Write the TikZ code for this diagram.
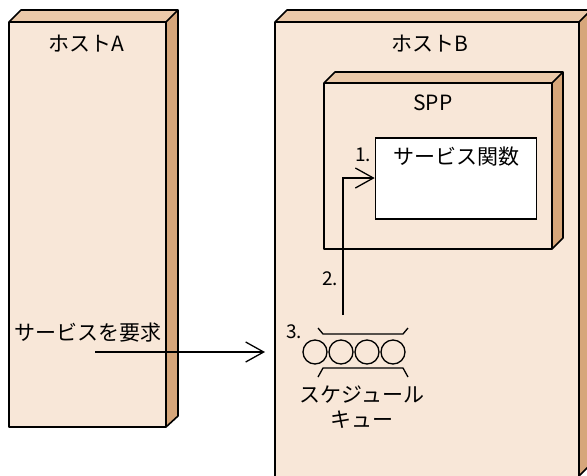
\documentclass[tikz,border=0pt]{standalone}
\usepackage{fontspec}
\setmainfont{Noto Sans CJK JP}
\usetikzlibrary{arrows.meta}
\definecolor{frontc}{RGB}{248,231,216}
\definecolor{topc}{RGB}{235,201,169}
\definecolor{sidec}{RGB}{214,166,122}
\tikzset{
  face/.style={draw=black,line width=1.6pt,line join=round},
  conn/.style={draw=black,line width=1.3pt},
  tip/.style={-{Straight Barb[length=18pt,width=20pt,line width=1.3pt]}},
  lbl/.style={font=\fontsize{21}{23}\selectfont,inner sep=0pt},
  num/.style={font=\fontsize{19}{21}\selectfont,inner sep=0pt},
  qc/.style={draw=black,line width=1.3pt}
}
\begin{document}
\begin{tikzpicture}[x=1pt,y=-1pt]
\useasboundingbox (0,0) rectangle (587,475);
\begin{scope}
\clip (0,0) rectangle (587,475);
% Host A
\fill[topc] (9,22)--(21,10)--(178,10)--(166,22)--cycle;
\fill[sidec] (166,22)--(178,10)--(178,416)--(166,427)--cycle;
\fill[frontc] (9,22) rectangle (166,427);
\draw[face] (9,22)--(21,10)--(178,10)--(178,416)--(166,427)--(9,427)--cycle;
\draw[face] (9,22)--(166,22)--(166,427) (166,22)--(178,10);
% Host B
\fill[topc] (275,22)--(287,10)--(591,10)--(579,22)--cycle;
\fill[sidec] (579,22)--(591,10)--(591,464)--(579,476)--cycle;
\fill[frontc] (275,22) rectangle (579,476);
\draw[face] (275,480)--(275,22)--(287,10)--(591,10);
\draw[face] (275,22)--(579,22)--(579,476)--(591,464);
\draw[face] (579,22)--(591,10);
\end{scope}
% SPP
\fill[topc] (324,83)--(335,72)--(563,72)--(552,83)--cycle;
\fill[sidec] (552,83)--(563,72)--(563,238)--(552,249)--cycle;
\fill[frontc] (324,83) rectangle (552,249);
\draw[face] (324,83)--(335,72)--(563,72)--(563,238)--(552,249)--(324,249)--cycle;
\draw[face] (324,83)--(552,83)--(552,249) (552,83)--(563,72);
% Service function box
\node[draw=black,line width=1.6pt,fill=white,minimum width=161pt,minimum height=81pt,inner sep=0pt] (func) at (456,178.5) {};
\node[lbl] (funct) at (456,157) {サービス関数};
% Labels
\node[lbl] (hostA) at (86,44) {ホストA};
\node[lbl] (hostB) at (430,44) {ホストB};
\node[lbl] (spp) at (433,103) {SPP};
\node[num] (n1) at (363,155) {1.};
\node[num] (n2) at (330,279) {2.};
\node[num] (n3) at (294,332) {3.};
\node[lbl,anchor=west] (req) at (14,333) {サービスを要求};
\node[lbl] (q1) at (362,395) {スケジュール};
\node[lbl] (q2) at (362,420) {キュー};
% Queue
\coordinate (queue) at (360,352);
\foreach \cx/\nm in {315/c1,341/c2,367/c3,393/c4}
  \node[qc,circle,minimum size=24pt,inner sep=0pt] (\nm) at (\cx,352) {};
\draw[qc] (318,328)--(323,334)--(403,334)--(408,328);
\draw[qc] (318,377)--(323,368)--(403,368)--(408,377);
% Connectors
\coordinate (reqstart) at (95,352);
\coordinate (reqend) at (265,352);
\coordinate (qtop) at (343,315);
\draw[conn,tip] (reqstart) -- (reqend);
\draw[conn,tip] (qtop) |- (func.west |- 0,178);
\end{tikzpicture}
\end{document}
